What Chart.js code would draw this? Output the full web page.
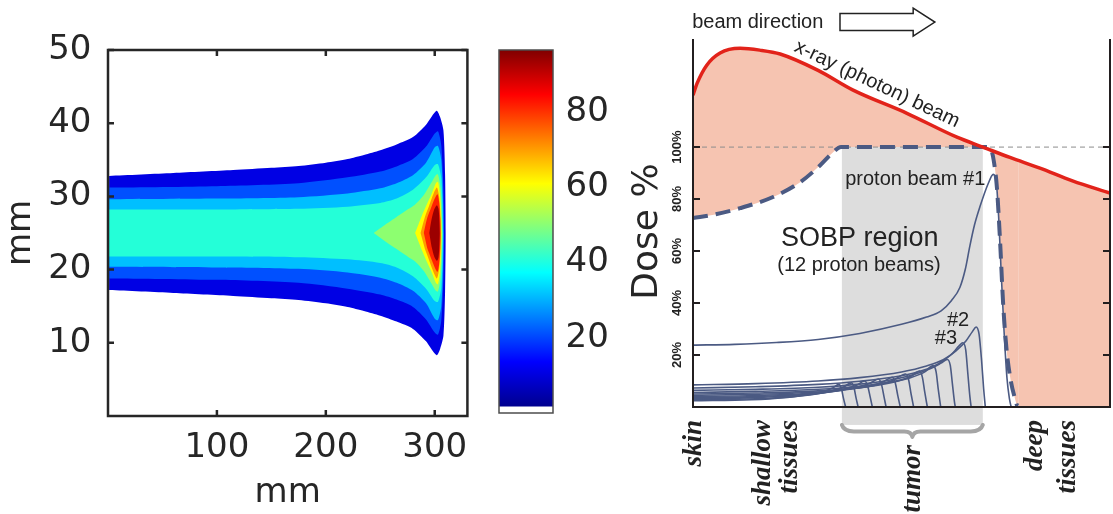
<!DOCTYPE html>
<html>
<head>
<meta charset="utf-8">
<script src="https://cdn.jsdelivr.net/npm/chart.js@4.4.1/dist/chart.umd.min.js"></script>
<style>
  html, body { margin: 0; padding: 0; background: #fff; }
  #page { position: relative; width: 1113px; height: 514px; overflow: hidden; }
  canvas { position: absolute; top: 0; }
  #doseMap { left: 0; }
  #colourBar { left: 480px; }
  #depthDose { left: 640px; }
</style>
</head>
<body>
<div id="page">
  <canvas id="doseMap" width="480" height="514"></canvas>
  <canvas id="colourBar" width="200" height="514"></canvas>
  <canvas id="depthDose" width="473" height="514"></canvas>
</div>
<script>
// ---------- left panel: dose map ----------
const beamAxis = 25; // mm, centre line of the beam
const mapTicksX = [100, 200, 300];
const mapTicksY = [10, 20, 30, 40, 50];

// contour outlines: depth (mm) and half width (mm) of each dose level
const lvl10X = [1, 60, 115, 150, 175, 200, 220, 235, 250, 265, 280, 292, 299, 302, 305, 308, 309.5, 310];
const lvl10H = [7.8, 8.2, 8.6, 8.9, 9.15, 9.6, 10.1, 10.65, 11.3, 12.1, 13.1, 14.8, 16.3, 16.7, 15.8, 14, 8, 0];
const lvl20X = [1, 100, 175, 220, 250, 265, 280, 292, 300, 303, 306, 308, 308.5];
const lvl20H = [6.2, 6.4, 6.8, 7.6, 8.4, 9.1, 10.1, 11.8, 13.6, 13.9, 12, 6, 0];
const lvl30X = [1, 100, 175, 220, 250, 265, 280, 292, 300, 303, 306, 307.5, 308];
const lvl30H = [4.6, 4.7, 4.9, 5.4, 6.1, 6.8, 7.9, 9.6, 11.7, 11.9, 10, 5, 0];
const lvl40X = [1, 100, 175, 220, 250, 265, 280, 292, 300, 303, 306, 307, 307.5];
const lvl40H = [3.2, 3.2, 3.3, 3.6, 4.1, 4.7, 5.9, 7.6, 9.3, 9.4, 7.5, 4, 0];
const lvl50X = [244, 255, 265, 275, 282, 290, 297, 301, 303, 305.5, 306.5, 307];
const lvl50H = [0, 1.2, 2.2, 3.2, 3.9, 5.2, 6.9, 7.9, 8.0, 6, 3, 0];
const lvl60X = [282, 288, 293, 297, 301, 303, 305, 306, 306.3];
const lvl60H = [0, 2.3, 4.0, 5.3, 6.8, 7.0, 5, 2, 0];
const lvl70X = [287, 291, 295, 299, 302, 304, 305.5, 305.8];
const lvl70H = [0, 2.2, 3.8, 5.4, 6.2, 5, 2, 0];
const lvl80X = [290, 293, 297, 300, 302.5, 304, 305, 305.3];
const lvl80H = [0, 2, 3.6, 4.7, 5.3, 4.3, 2, 0];
const lvl90X = [295, 297, 299.5, 302, 303.5, 304.3, 304.6];
const lvl90H = [0, 1.8, 3.2, 3.8, 3.3, 1.5, 0];

// colour bar
const cbarTicks = [20, 40, 60, 80];
const cbarLow = 1.8;
const cbarHigh = 96.4;

// ---------- right panel: depth dose ----------
const doseTicks = [20, 40, 60, 80, 100];
const refLevel = 100;
const tumorFrom = 35.7;
const tumorTo = 69.5;

// [depth, dose %]
const xrayDose = [[0, 120], [1, 124.6], [3.3, 131.5], [6.5, 136.2], [11.3, 138], [16, 137.3], [20.9, 135.8],
  [30, 129.5], [38.4, 121.9], [51.3, 113], [63.3, 103.8], [69.5, 100], [76, 96], [83.2, 91.9], [91, 87], [100, 82.3]];
const sobpDose = [[0, 72.7], [5, 74], [11.3, 76.5], [19.2, 80.8], [25.7, 86.5], [30.5, 93], [33.6, 98], [35.5, 100],
  [70.5, 100], [71.5, 99], [72.2, 94], [72.9, 84], [73.6, 65], [74.4, 39], [75.2, 22], [76, 12], [77, 4.5], [78, 0], [100, 0]];

const beam1 = [[0, 23.8], [10, 24.1], [20, 24.8], [30, 26], [40, 28.3], [50, 31.8], [56, 34.6], [59.5, 37], [62, 41],
  [64, 46], [65.3, 53], [66.4, 62], [67.5, 70], [68.8, 77], [70.8, 86], [72, 89.5], [72.7, 87], [73.3, 73],
  [73.9, 52], [74.6, 29], [75.3, 11], [75.9, 3], [76.3, 0]];
const beam2 = [[0, 8.5], [15, 9], [30, 10], [40, 11.3], [50, 13.5], [56, 15.8], [60, 18.2], [63, 21.5], [65.5, 25.5],
  [67, 29], [67.9, 30.8], [68.6, 28], [69.2, 18], [69.7, 7], [70.1, 0]];
const beam3 = [[0, 7.3], [15, 7.8], [30, 8.7], [40, 9.9], [50, 12], [55, 14], [59, 16.8], [62, 20.3], [63.8, 23.5],
  [64.7, 24.7], [65.4, 22], [65.9, 13], [66.4, 4], [66.7, 0]];
const beam4 = [[0, 6.4], [15, 6.8], [30, 7.6], [40, 8.8], [47, 10.3], [53, 12.5], [57, 14.8], [59.5, 16.9], [61, 18.3],
  [61.7, 16], [62.2, 9], [62.7, 2], [62.9, 0]];
const beam5 = [[0, 5.6], [15, 6], [30, 6.8], [40, 8], [47, 9.5], [52, 11.2], [55.5, 13.4], [57.6, 15.9], [58.3, 13.5],
  [58.8, 7], [59.4, 0]];
const beam6 = [[0, 5], [15, 5.4], [30, 6.2], [40, 7.5], [46, 8.9], [50, 10.4], [52.5, 12], [54.3, 13.8], [55, 11.5],
  [55.6, 5.5], [56.2, 0]];
const beam7 = [[0, 4.5], [15, 4.9], [30, 5.8], [38, 7], [44, 8.5], [48, 10.3], [51, 12.7], [51.7, 10.5], [52.3, 5], [52.9, 0]];
const beam8 = [[0, 4], [15, 4.4], [28, 5.3], [36, 6.5], [42, 8], [45.5, 9.6], [47.8, 11.4], [48.5, 9.3], [49.1, 4.5], [49.7, 0]];
const beam9 = [[0, 3.6], [15, 4], [27, 4.9], [34, 6.1], [39, 7.5], [42.3, 9], [44.5, 10.8], [45.2, 8.7], [45.8, 4], [46.3, 0]];
const beam10 = [[0, 3.2], [15, 3.6], [25, 4.4], [32, 5.6], [36.5, 7], [39.2, 8.4], [41.2, 10], [41.9, 8], [42.5, 3.8], [43, 0]];
const beam11 = [[0, 2.8], [15, 3.2], [24, 4], [30, 5.1], [34, 6.5], [36.2, 7.8], [38, 9.3], [38.6, 7.5], [39.1, 3.5], [39.6, 0]];
const beam12 = [[0, 2.4], [14, 2.8], [22, 3.6], [28, 4.8], [31.5, 6.1], [33.5, 7.3], [35, 8.7], [35.6, 7], [36.1, 3.2], [36.6, 0]];
const protonBeams = [beam1, beam2, beam3, beam4, beam5, beam6, beam7, beam8, beam9, beam10, beam11, beam12];

const depthNotes = [
  {text: 'beam direction', x: -0.2, y: 148.1, size: 20, align: 'left'},
  {text: 'x-ray (photon) beam', x: 44.1, y: 124.2, size: 20, align: 'center', angle: 25.3},
  {text: 'proton beam #1', x: 36.5, y: 87.7, size: 20, align: 'left'},
  {text: 'SOBP region', x: 40, y: 65, size: 27, align: 'center'},
  {text: '(12 proton beams)', x: 39.8, y: 54.6, size: 20, align: 'center'},
  {text: '#2', x: 60.9, y: 33.1, size: 20, align: 'left'},
  {text: '#3', x: 58.0, y: 26.5, size: 20, align: 'left'}
];
const tissueNotes = [
  {text: 'skin', x: 1.9, y: -5},
  {text: 'shallow', x: 18.5, y: -5},
  {text: 'tissues', x: 24.9, y: -5},
  {text: 'tumor', x: 54.4, y: -14.6},
  {text: 'deep', x: 83.7, y: -5},
  {text: 'tissues', x: 91.6, y: -5}
];

Chart.defaults.font.family = "'DejaVu Sans', sans-serif";
Chart.defaults.color = '#262626';

const pts = arr => arr.map(([x, y]) => ({x, y}));

// closed outline of one contour level, mirrored round the beam axis
function outline(xs, hs) {
  const top = xs.map((x, i) => ({x, y: beamAxis + hs[i]}));
  const bottom = [];
  for (let i = xs.length - 1; i >= 0; i--) {
    if (hs[i] > 0) bottom.push({x: xs[i], y: beamAxis - hs[i]});
  }
  return top.concat(bottom);
}

// box lines and inward tick marks
const framePlugin = {
  id: 'frame',
  afterDraw(chart, args, opts) {
    const {ctx, chartArea: a} = chart;
    const xs = chart.scales.x, ys = chart.scales.y;
    ctx.save();
    ctx.strokeStyle = opts.color;
    ctx.lineWidth = opts.width;
    ctx.lineCap = 'square';
    ctx.beginPath();
    const sides = opts.sides || [];
    if (sides.includes('left')) { ctx.moveTo(a.left, a.top); ctx.lineTo(a.left, a.bottom); }
    if (sides.includes('right')) { ctx.moveTo(a.right, a.top); ctx.lineTo(a.right, a.bottom); }
    if (sides.includes('bottom')) { ctx.moveTo(a.left, a.bottom); ctx.lineTo(a.right, a.bottom); }
    if (sides.includes('top')) { ctx.moveTo(a.left, a.top); ctx.lineTo(a.right, a.top); }
    ctx.stroke();

    const len = opts.tickLength || 0;
    ctx.lineCap = 'butt';
    ctx.beginPath();
    (opts.yTicks || []).forEach(side => {
      ys.ticks.forEach(t => {
        const p = ys.getPixelForValue(t.value);
        const x0 = side === 'left' ? a.left : a.right;
        ctx.moveTo(x0, p);
        ctx.lineTo(side === 'left' ? x0 + len : x0 - len, p);
      });
    });
    (opts.xTicks || []).forEach(side => {
      xs.ticks.forEach(t => {
        const p = xs.getPixelForValue(t.value);
        const y0 = side === 'top' ? a.top : a.bottom;
        ctx.moveTo(p, y0);
        ctx.lineTo(p, side === 'top' ? y0 + len : y0 - len);
      });
    });
    ctx.stroke();

    // rotated dose labels on the depth-dose axis
    if (opts.yLabels) {
      const L = opts.yLabels;
      ctx.font = L.font;
      ctx.fillStyle = L.color;
      ctx.textAlign = 'center';
      ctx.textBaseline = 'middle';
      ys.ticks.forEach(t => {
        ctx.save();
        ctx.translate(a.left - L.offset, ys.getPixelForValue(t.value));
        ctx.rotate(-Math.PI / 2);
        ctx.fillText(L.format(t.value), 0, 0);
        ctx.restore();
      });
    }
    ctx.restore();
  }
};

// ---------- dose map ----------
const mapLevels = [
  {x: lvl10X, h: lvl10H, colour: '#0000e4'},
  {x: lvl20X, h: lvl20H, colour: '#0050ff'},
  {x: lvl30X, h: lvl30H, colour: '#00bfff'},
  {x: lvl40X, h: lvl40H, colour: '#24ffd8'},
  {x: lvl50X, h: lvl50H, colour: '#8dff70'},
  {x: lvl60X, h: lvl60H, colour: '#ffff00'},
  {x: lvl70X, h: lvl70H, colour: '#ff9a00'},
  {x: lvl80X, h: lvl80H, colour: '#ff2400'},
  {x: lvl90X, h: lvl90H, colour: '#9c0000'}
];

new Chart(document.getElementById('doseMap'), {
  type: 'scatter',
  data: {
    datasets: mapLevels.map((lv, i) => ({
      data: outline(lv.x, lv.h),
      showLine: true,
      fill: 'shape',
      backgroundColor: lv.colour,
      borderColor: 'transparent',
      borderWidth: 0,
      pointRadius: 0,
      tension: 0.25,
      order: mapLevels.length - i
    }))
  },
  options: {
    responsive: false,
    animation: false,
    events: [],
    layout: {padding: {top: 50, right: 9, left: 0, bottom: 0}},
    plugins: {
      legend: {display: false},
      tooltip: {enabled: false},
      frame: {color: '#262626', width: 2.5, sides: ['left', 'right', 'top', 'bottom'],
        tickLength: 6, yTicks: ['left', 'right'], xTicks: ['top', 'bottom']}
    },
    scales: {
      x: {
        type: 'linear', min: 0, max: 330,
        afterBuildTicks: axis => axis.ticks = mapTicksX.map(v => ({value: v})),
        grid: {display: false, drawTicks: false},
        border: {display: false},
        ticks: {font: {size: 34}, padding: 12, maxRotation: 0, autoSkip: false},
        title: {display: true, text: 'mm', font: {size: 34}, padding: {top: 0, bottom: 0}},
        afterFit: s => { s.height = 98; }
      },
      y: {
        type: 'linear', min: 0, max: 50,
        afterBuildTicks: axis => axis.ticks = mapTicksY.map(v => ({value: v})),
        grid: {display: false, drawTicks: false},
        border: {display: false},
        ticks: {font: {size: 34}, padding: 16.5, autoSkip: false},
        title: {display: true, text: 'mm', font: {size: 34}, padding: {top: 1, bottom: 0}},
        afterFit: s => { s.width = 108; }
      }
    }
  },
  plugins: [framePlugin]
});

// ---------- colour bar ----------
const jetStops = [[0, '#00008f'], [0.125, '#0000ff'], [0.375, '#00ffff'], [0.625, '#ffff00'], [0.875, '#ff0000'], [1, '#800000']];

const barTitle = {
  id: 'barTitle',
  afterDraw(chart) {
    const {ctx, chartArea: a} = chart;
    ctx.save();
    ctx.translate(a.right + 104, (a.top + a.bottom) / 2);
    ctx.rotate(-Math.PI / 2);
    ctx.font = "36px 'DejaVu Sans'";
    ctx.fillStyle = '#262626';
    ctx.textAlign = 'center';
    ctx.textBaseline = 'alphabetic';
    ctx.fillText('Dose %', 0, 0);
    ctx.restore();
  }
};

new Chart(document.getElementById('colourBar'), {
  type: 'bar',
  data: {
    labels: ['dose'],
    datasets: [{
      data: [[cbarLow, cbarHigh]],
      backgroundColor: c => {
        const chart = c.chart;
        if (!chart.chartArea) return 'transparent';
        const y = chart.scales.y;
        const g = chart.ctx.createLinearGradient(0, y.getPixelForValue(cbarLow), 0, y.getPixelForValue(cbarHigh));
        jetStops.forEach(([f, col]) => g.addColorStop(f, col));
        return g;
      },
      borderWidth: 0,
      barPercentage: 1,
      categoryPercentage: 1
    }]
  },
  options: {
    responsive: false,
    animation: false,
    events: [],
    layout: {padding: {top: 50, left: 19, bottom: 101, right: 0}},
    plugins: {
      legend: {display: false},
      tooltip: {enabled: false},
      frame: {color: '#4d4d4d', width: 1.5, sides: ['left', 'right', 'top', 'bottom']}
    },
    scales: {
      x: {display: false},
      y: {
        position: 'right', min: 0, max: 96.4,
        afterBuildTicks: axis => axis.ticks = cbarTicks.map(v => ({value: v})),
        grid: {display: false, drawTicks: false},
        border: {display: false},
        ticks: {font: {size: 34}, padding: 12.5, autoSkip: false},
        afterFit: s => { s.width = 127; }
      }
    }
  },
  plugins: [framePlugin, barTitle]
});

// ---------- depth dose ----------
const sketchPlugin = {
  id: 'sketch',
  beforeDraw(chart) {
    const {ctx} = chart;
    const xs = chart.scales.x, ys = chart.scales.y;
    const x0 = xs.getPixelForValue(tumorFrom), x1 = xs.getPixelForValue(tumorTo);
    const yTop = ys.getPixelForValue(refLevel), yBot = ys.getPixelForValue(-6.9);
    ctx.save();
    ctx.fillStyle = '#dddddd';
    ctx.fillRect(x0, yTop, x1 - x0, yBot - yTop);
    // brace under the tumour
    const mid = (x0 + x1) / 2;
    ctx.strokeStyle = '#a5a5a5';
    ctx.lineWidth = 4;
    ctx.lineJoin = 'round';
    ctx.lineCap = 'round';
    ctx.beginPath();
    ctx.moveTo(x0, yBot);
    ctx.quadraticCurveTo(x0 + 2, yBot + 6.5, x0 + 12, yBot + 6.5);
    ctx.lineTo(mid - 8, yBot + 6.5);
    ctx.quadraticCurveTo(mid - 1, yBot + 6.5, mid, yBot + 12);
    ctx.quadraticCurveTo(mid + 1, yBot + 6.5, mid + 8, yBot + 6.5);
    ctx.lineTo(x1 - 12, yBot + 6.5);
    ctx.quadraticCurveTo(x1 - 2, yBot + 6.5, x1, yBot);
    ctx.stroke();
    ctx.restore();
  },
  afterDraw(chart) {
    const {ctx} = chart;
    const xs = chart.scales.x, ys = chart.scales.y;
    ctx.save();
    ctx.fillStyle = '#222';
    depthNotes.forEach(n => {
      ctx.save();
      ctx.translate(xs.getPixelForValue(n.x), ys.getPixelForValue(n.y));
      ctx.rotate((n.angle || 0) * Math.PI / 180);
      ctx.font = n.size + "px 'Liberation Sans', Arial, sans-serif";
      ctx.textAlign = n.align;
      ctx.textBaseline = 'middle';
      ctx.fillText(n.text, 0, 0);
      ctx.restore();
    });
    tissueNotes.forEach(n => {
      ctx.save();
      ctx.translate(xs.getPixelForValue(n.x), ys.getPixelForValue(n.y));
      ctx.rotate(-Math.PI / 2);
      ctx.font = "italic bold 27px 'Liberation Serif', 'Times New Roman', serif";
      ctx.textAlign = 'right';
      ctx.textBaseline = 'alphabetic';
      ctx.fillText(n.text, 0, 0);
      ctx.restore();
    });
    // beam direction arrow
    const ax0 = xs.getPixelForValue(35.25), ax1 = xs.getPixelForValue(52.8), ax2 = xs.getPixelForValue(58);
    const ay = ys.getPixelForValue(148.1);
    ctx.beginPath();
    ctx.moveTo(ax0, ay - 8.5);
    ctx.lineTo(ax1, ay - 8.5);
    ctx.lineTo(ax1, ay - 14);
    ctx.lineTo(ax2, ay);
    ctx.lineTo(ax1, ay + 14);
    ctx.lineTo(ax1, ay + 8.5);
    ctx.lineTo(ax0, ay + 8.5);
    ctx.closePath();
    ctx.fillStyle = '#fff';
    ctx.fill();
    ctx.strokeStyle = '#222';
    ctx.lineWidth = 1.5;
    ctx.stroke();
    ctx.restore();
  }
};

new Chart(document.getElementById('depthDose'), {
  type: 'scatter',
  data: {
    datasets: [
      {
        data: pts(xrayDose), showLine: true, fill: 1,
        borderColor: '#e2231a', borderWidth: 3.5, backgroundColor: '#f6c4b1',
        pointRadius: 0, cubicInterpolationMode: 'monotone', order: 0
      },
      {
        data: pts(sobpDose), showLine: true, fill: false,
        borderColor: '#4b5a83', borderWidth: 4, borderDash: [15, 8],
        pointRadius: 0, cubicInterpolationMode: 'monotone', order: 1,
        segment: {borderColor: c => c.p0DataIndex >= sobpDose.length - 2 ? 'transparent' : undefined}
      },
      {
        data: [{x: 0, y: refLevel}, {x: 100, y: refLevel}], showLine: true, fill: false,
        borderColor: '#8c8c8c', borderWidth: 1, borderDash: [5, 4], pointRadius: 0, order: 3
      },
      ...protonBeams.map(b => ({
        data: pts(b), showLine: true, fill: false,
        borderColor: '#4b5a83', borderWidth: 1.6,
        pointRadius: 0, cubicInterpolationMode: 'monotone', order: 2
      }))
    ]
  },
  options: {
    responsive: false,
    animation: false,
    events: [],
    layout: {padding: {top: 40, right: 3, bottom: 107, left: 0}},
    plugins: {
      legend: {display: false},
      tooltip: {enabled: false},
      filler: {drawTime: 'beforeDatasetsDraw'},
      frame: {
        color: '#231f20', width: 2, sides: ['left', 'right', 'bottom'],
        tickLength: 7, yTicks: ['left', 'right'],
        yLabels: {font: "bold 13px 'Liberation Sans', Arial, sans-serif", color: '#222', offset: 16, format: v => v + '%'}
      }
    },
    scales: {
      x: {type: 'linear', min: 0, max: 100, display: false},
      y: {
        type: 'linear', min: 0, max: 141.2,
        afterBuildTicks: axis => axis.ticks = doseTicks.map(v => ({value: v})),
        grid: {display: false, drawTicks: false},
        border: {display: false},
        ticks: {display: false},
        afterFit: s => { s.width = 53; }
      }
    }
  },
  plugins: [sketchPlugin, framePlugin]
});
</script>
</body>
</html>
